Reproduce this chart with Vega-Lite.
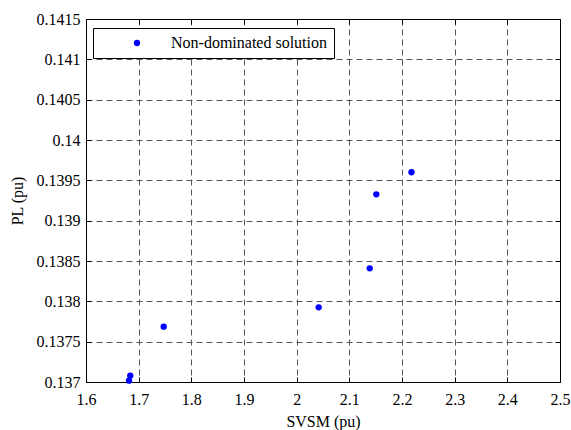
{
  "$schema": "https://vega.github.io/schema/vega-lite/v6.json",
  "width": 474,
  "height": 363,
  "autosize": {"type": "none"},
  "padding": {"left": 86, "top": 19, "right": 11, "bottom": 48},
  "background": "white",
  "config": {
    "view": {"stroke": "black", "strokeWidth": 1},
    "font": "Liberation Serif",
    "axis": {
      "labelFont": "Liberation Serif",
      "titleFont": "Liberation Serif",
      "labelFontSize": 16,
      "titleFontSize": 16,
      "titleFontWeight": "normal",
      "labelColor": "black",
      "titleColor": "black",
      "domainColor": "black",
      "tickColor": "black",
      "gridColor": "#555555",
      "gridOpacity": 1,
      "gridDash": [6, 4],
      "gridWidth": 1
    },
    "legend": {"labelFont": "Liberation Serif"}
  },
  "data": {
    "values": [
      {"SVSM": 1.6817, "PL": 0.137016, "series": "Non-dominated solution"},
      {"SVSM": 1.684, "PL": 0.137078, "series": "Non-dominated solution"},
      {"SVSM": 1.7475, "PL": 0.137686, "series": "Non-dominated solution"},
      {"SVSM": 2.0418, "PL": 0.137926, "series": "Non-dominated solution"},
      {"SVSM": 2.1387, "PL": 0.138409, "series": "Non-dominated solution"},
      {"SVSM": 2.1512, "PL": 0.139327, "series": "Non-dominated solution"},
      {"SVSM": 2.218, "PL": 0.1396, "series": "Non-dominated solution"}
    ]
  },
  "resolve": {"axis": {"x": "independent", "y": "independent"}},
  "layer": [
    {
      "mark": {"type": "point", "filled": true, "size": 40, "opacity": 1},
      "encoding": {
        "x": {
          "field": "SVSM", "type": "quantitative",
          "scale": {"domain": [1.6, 2.5], "nice": false, "zero": false},
          "axis": {
            "orient": "bottom", "title": "SVSM (pu)",
            "values": [1.6, 1.7, 1.8, 1.9, 2.0, 2.1, 2.2, 2.3, 2.4, 2.5],
            "format": "~g", "grid": true, "tickSize": -5, "labelPadding": 14,
            "titlePadding": 6, "labelFlush": false,
            "labelFont": "Liberation Serif", "titleFont": "Liberation Serif"
          }
        },
        "y": {
          "field": "PL", "type": "quantitative",
          "scale": {"domain": [0.137, 0.1415], "nice": false, "zero": false},
          "axis": {
            "orient": "left", "title": "PL (pu)",
            "values": [0.137, 0.1375, 0.138, 0.1385, 0.139, 0.1395, 0.14, 0.1405, 0.141, 0.1415],
            "format": "~g", "grid": true, "tickSize": -5, "labelPadding": 11,
            "titlePadding": 11, "labelFlush": false,
            "labelFont": "Liberation Serif", "titleFont": "Liberation Serif"
          }
        },
        "color": {
          "field": "series", "type": "nominal",
          "scale": {"range": ["#0000ff"]},
          "legend": {
            "title": null,
            "orient": "none",
            "legendX": 7,
            "legendY": 9,
            "direction": "vertical",
            "strokeColor": "black",
            "fillColor": "white",
            "padding": 7,
            "symbolType": "circle",
            "symbolSize": 40,
            "symbolOffset": 29,
            "labelOffset": 26,
            "labelFont": "Liberation Serif",
            "labelFontSize": 16,
            "labelColor": "black",
            "labelLimit": 300
          }
        }
      }
    },
    {
      "mark": {"type": "point", "opacity": 0},
      "encoding": {
        "x": {
          "field": "SVSM", "type": "quantitative",
          "axis": {
            "orient": "top", "title": null, "labels": false, "grid": false,
            "values": [1.6, 1.7, 1.8, 1.9, 2.0, 2.1, 2.2, 2.3, 2.4, 2.5],
            "tickSize": -5
          }
        },
        "y": {
          "field": "PL", "type": "quantitative",
          "axis": {
            "orient": "right", "title": null, "labels": false, "grid": false,
            "values": [0.137, 0.1375, 0.138, 0.1385, 0.139, 0.1395, 0.14, 0.1405, 0.141, 0.1415],
            "tickSize": -5
          }
        }
      }
    }
  ]
}
